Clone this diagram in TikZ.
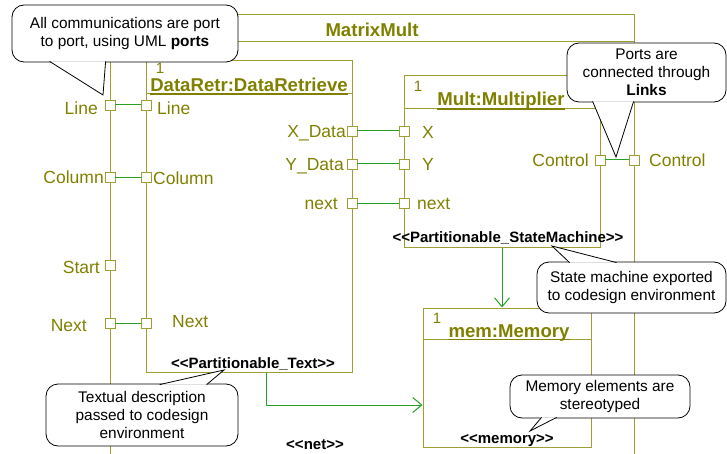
\documentclass[tikz,border=0pt]{standalone}
\usepackage{fontspec}
\setmainfont{Liberation Sans}
\usetikzlibrary{arrows.meta}
\definecolor{olivetxt}{RGB}{128,128,0}
\definecolor{oliveln}{RGB}{158,158,50}
\definecolor{linkgreen}{RGB}{40,160,40}
% << and >> kept apart so that no ligature is made
\newcommand{\sterm}[1]{<\kern0pt<#1>\kern0pt>}
\tikzstyle{part} = [rectangle, draw=oliveln, line width=1pt, inner sep=0pt]
\tikzstyle{sep} = [draw=oliveln, line width=1pt]
\tikzstyle{uline} = [draw=olivetxt, line width=1.6pt]
\tikzstyle{port} = [rectangle, draw=oliveln, fill=white, line width=0.9pt, minimum size=10pt, inner sep=0pt]
\tikzstyle{plabel} = [text=olivetxt, font=\fontsize{17.5}{20}\selectfont, inner sep=0pt]
\tikzstyle{ptitle} = [text=olivetxt, font=\fontsize{18.6}{21}\selectfont\bfseries, inner sep=0pt]
\tikzstyle{multi} = [text=olivetxt, font=\fontsize{15}{17}\selectfont, inner sep=0pt]
\tikzstyle{stereo} = [font=\fontsize{15}{17}\selectfont\bfseries, inner sep=0pt]
\tikzstyle{note} = [rectangle, rounded corners=12pt, draw=black, fill=white, line width=0.8pt, align=center, font=\fontsize{15.4}{18}\selectfont, inner sep=0pt]
\tikzstyle{tail} = [draw=black, fill=white, line width=0.8pt]
\tikzstyle{link} = [draw=linkgreen, line width=1pt]
\tikzstyle{flow} = [link, -{Straight Barb[length=9pt,width=15pt]}]

\begin{document}
\begin{tikzpicture}[x=1pt, y=-1pt]
  \useasboundingbox (0,0) rectangle (727,454);

  % parts
  \node[part, minimum width=524pt, minimum height=480pt] (mm) at (372,255) {};
  \draw[sep] ([yshift=-27pt]mm.north west) -- ([yshift=-27pt]mm.north east);
  \node[ptitle] (mmt) at (372,30) {MatrixMult};

  \node[part, minimum width=206pt, minimum height=311pt] (retr) at (249,216.5) {};
  \draw[sep] ([yshift=-33pt]retr.north west) -- ([yshift=-33pt]retr.north east);
  \node[multi, anchor=base] (retrn) at (160,73.5) {1};
  \node[ptitle, anchor=base] (retrt) at (249,91.5) {DataRetr:DataRetrieve};
  \draw[uline] ([yshift=-2.5pt]retrt.base west) -- ([yshift=-2.5pt]retrt.base east);

  \node[part, minimum width=196pt, minimum height=171pt] (mult) at (502,161.5) {};
  \draw[sep] ([yshift=-33pt]mult.north west) -- ([yshift=-33pt]mult.north east);
  \node[multi, anchor=base] (multn) at (418,92) {1};
  \node[ptitle, anchor=base] (multt) at (501,106) {Mult:Multiplier};
  \draw[uline] ([yshift=-3pt]multt.base west) -- ([yshift=-3pt]multt.base east);

  \node[part, minimum width=168pt, minimum height=139pt] (mem) at (507,377.5) {};
  \draw[sep] ([yshift=-32pt]mem.north west) -- ([yshift=-32pt]mem.north east);
  \node[multi, anchor=base] (memn) at (437,323) {1};
  \node[ptitle, anchor=base] (memt) at (509,337) {mem:Memory};
  \draw[uline] ([yshift=-2.5pt]memt.base west) -- ([yshift=-2.5pt]memt.base east);

  % links
  \node[port] (oline) at (110,105) {};
  \node[port] (ocol) at (110,177.5) {};
  \node[port] (ostart) at (110,265) {};
  \node[port] (onext) at (110,323) {};
  \node[port] (rline) at (146,105) {};
  \node[port] (rcol) at (146,177.5) {};
  \node[port] (rnext) at (146,323) {};
  \node[port] (rx) at (352,131) {};
  \node[port] (ry) at (352,164) {};
  \node[port] (rn) at (352,203.5) {};
  \node[port] (mx) at (404,131) {};
  \node[port] (my) at (404,164) {};
  \node[port] (mn) at (404,203.5) {};
  \node[port] (mctl) at (600,160) {};
  \node[port] (octl) at (634,160) {};

  \draw[link] (oline) -- (rline);
  \draw[link] (ocol) -- (rcol);
  \draw[link] (onext) -- (rnext);
  \draw[link] (rx) -- (mx);
  \draw[link] (ry) -- (my);
  \draw[link] (rn) -- (mn);
  \draw[link] (mctl) -- (octl);

  \draw[flow] (mult.south) -- (mult.south |- mem.north);
  \draw[flow] ([xshift=17pt]retr.south) |- ([yshift=-27.5pt]mem.west);

  % port names
  \node[plabel, anchor=base east] (olinel) at (98,115) {Line};
  \node[plabel, anchor=base east] (ocoll) at (104,184) {Column};
  \node[plabel, anchor=base east] (ostartl) at (100,273) {Start};
  \node[plabel, anchor=base east] (onextl) at (87,331.5) {Next};
  \node[plabel, anchor=base west] (rlinel) at (157,115) {Line};
  \node[plabel, anchor=base west] (rcoll) at (153,185) {Column};
  \node[plabel, anchor=base west] (rnextl) at (172,327) {Next};
  \node[plabel, anchor=base east] (rxl) at (346,138) {X\_Data};
  \node[plabel, anchor=base east] (ryl) at (344,171) {Y\_Data};
  \node[plabel, anchor=base east] (rnl) at (338,209.5) {next};
  \node[plabel, anchor=base west] (mxl) at (422,139) {X};
  \node[plabel, anchor=base west] (myl) at (422,171) {Y};
  \node[plabel, anchor=base west] (mnl) at (417,210) {next};
  \node[plabel, anchor=base east] (mctll) at (589,166.5) {Control};
  \node[plabel, anchor=base west] (octll) at (649,166.5) {Control};

  % stereotypes
  \node[stereo, anchor=base] (retrs) at (253,368) {\sterm{Partitionable\_Text}};
  \node[stereo, anchor=base] (mults) at (508,242) {\sterm{Partitionable\_StateMachine}};
  \node[stereo, anchor=base] (mems) at (507,443) {\sterm{memory}};
  \node[stereo, anchor=base] (mms) at (315,449) {\sterm{net}};

  % notes
  \node[note, minimum width=226pt, minimum height=57pt] (c1) at (125,33.5)
    {All communications are port\\to port, using UML \textbf{ports}};
  \coordinate (t1) at (103,95);
  \filldraw[tail] ([xshift=38pt,yshift=1pt]c1.south west) -- (t1) -- ([xshift=94pt,yshift=1pt]c1.south west);

  \node[note, minimum width=159pt, minimum height=59pt] (c2) at (646.5,72.5)
    {Ports are\\connected through\\\textbf{Links}};
  \coordinate (t2) at (616,157);
  \filldraw[tail] ([xshift=26pt,yshift=1pt]c2.south west) -- (t2) -- ([xshift=67pt,yshift=1pt]c2.south west);

  \node[note, minimum width=189pt, minimum height=51pt] (c3) at (631.5,287.5)
    {State machine exported\\to codesign environment};
  \coordinate (t3) at (552,246);
  \filldraw[tail] ([xshift=33pt,yshift=-1pt]c3.north west) -- (t3) -- ([xshift=80pt,yshift=-1pt]c3.north west);

  \node[note, minimum width=180pt, minimum height=43pt] (c4) at (600,396.5)
    {Memory elements are\\stereotyped};
  \coordinate (t4) at (530,431);
  \filldraw[tail] ([xshift=32pt,yshift=1pt]c4.south west) -- (t4) -- ([xshift=47pt,yshift=1pt]c4.south west);

  \node[note, minimum width=192pt, minimum height=62pt] (c5) at (142,415)
    {Textual description\\passed to codesign\\environment};
  \coordinate (t5) at (224,370);
  \filldraw[tail] ([xshift=114pt,yshift=-1pt]c5.north west) -- (t5) -- ([xshift=161pt,yshift=-1pt]c5.north west);
\end{tikzpicture}
\end{document}
